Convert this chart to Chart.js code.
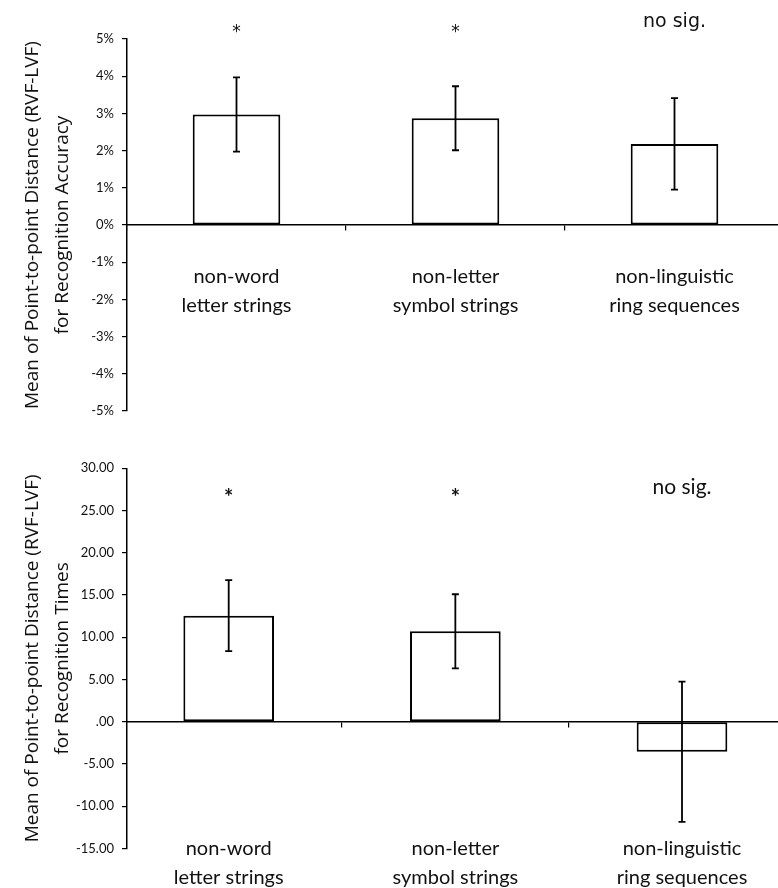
<!DOCTYPE html>
<html>
<head>
<meta charset="utf-8">
<script src="https://cdn.jsdelivr.net/npm/chart.js@4.4.1/dist/chart.umd.min.js"></script>
<style>
  html, body { margin: 0; padding: 0; background: #fff; overflow: hidden; }
  #wrap { position: relative; width: 778px; height: 888px; overflow: hidden; }
  .panel { position: absolute; left: 0; }
  #top { top: 0; }
  #bottom { top: 440px; }
</style>
</head>
<body>
<div id="wrap">
  <div class="panel" id="top"><canvas id="accChart" width="800" height="440"></canvas></div>
  <div class="panel" id="bottom"><canvas id="timeChart" width="800" height="448"></canvas></div>
</div>
<script>
// categories shared by both panels
const categories = [
  ['non-word', 'letter strings'],
  ['non-letter', 'symbol strings'],
  ['non-linguistic', 'ring sequences']
];
const significance = ['*', '*', 'no sig.'];

// top panel: recognition accuracy (%)
const accuracyMeans = [2.97, 2.87, 2.18];
const accuracyErrors = [1.0, 0.86, 1.23];
const accuracyTicks = [-5, -4, -3, -2, -1, 0, 1, 2, 3, 4, 5];
const accuracyTickLabels = ['-5%', '-4%', '-3%', '-2%', '-1%', '0%', '1%', '2%', '3%', '4%', '5%'];

// bottom panel: recognition times
const timeMeans = [12.56, 10.71, -3.55];
const timeErrors = [4.2, 4.38, 8.3];
const timeTicks = [-15, -10, -5, 0, 5, 10, 15, 20, 25, 30];
const timeTickLabels = ['-15.00', '-10.00', '-5.00', '.00', '5.00', '10.00', '15.00', '20.00', '25.00', '30.00'];

const ink = '#111';

// draws +/- error whiskers on each bar
const errorBars = {
  id: 'errorBars',
  afterDatasetsDraw(chart, args, opts) {
    const meta = chart.getDatasetMeta(0);
    const yScale = chart.scales.y;
    const ctx = chart.ctx;
    ctx.save();
    ctx.strokeStyle = '#000';
    ctx.lineWidth = 1.8;
    meta.data.forEach((bar, i) => {
      const v = meta.controller.getParsed(i).y;
      const e = opts.errors[i];
      const top = yScale.getPixelForValue(v + e);
      const bot = yScale.getPixelForValue(v - e);
      ctx.beginPath();
      ctx.moveTo(bar.x, top); ctx.lineTo(bar.x, bot);
      ctx.moveTo(bar.x - 3.5, top); ctx.lineTo(bar.x + 3.5, top);
      ctx.moveTo(bar.x - 3.5, bot); ctx.lineTo(bar.x + 3.5, bot);
      ctx.stroke();
    });
    ctx.restore();
  }
};

// significance notes above the bars
const sigMarks = {
  id: 'sigMarks',
  afterDraw(chart, args, opts) {
    const meta = chart.getDatasetMeta(0);
    const yScale = chart.scales.y;
    const ctx = chart.ctx;
    ctx.save();
    ctx.fillStyle = ink;
    ctx.textAlign = 'center';
    ctx.textBaseline = 'middle';
    opts.labels.forEach((t, i) => {
      const star = t === '*';
      ctx.font = star ? opts.starFont : opts.textFont;
      ctx.fillText(t, meta.data[i].x, yScale.getPixelForValue(star ? opts.starLevel : opts.textLevel));
    });
    ctx.restore();
  }
};

const titleFont = { family: 'Open Sans', size: 19, lineHeight: 1.58 };
const tickFont = { family: 'Lato', size: 13 };
const labelFont = { family: 'Lato', size: 20, lineHeight: 1.45 };

new Chart(document.getElementById('accChart'), {
  type: 'bar',
  data: {
    labels: categories,
    datasets: [{
      data: accuracyMeans,
      backgroundColor: '#fff',
      borderColor: '#000',
      borderWidth: 2,
      borderSkipped: false,
      barPercentage: 0.4,
      categoryPercentage: 1
    }]
  },
  options: {
    responsive: false,
    animation: false,
    layout: { padding: { left: 0, top: 39, right: 16, bottom: 29 } },
    plugins: {
      legend: { display: false },
      tooltip: { enabled: false },
      errorBars: { errors: accuracyErrors },
      sigMarks: {
        labels: significance,
        starLevel: 5.18, textLevel: 5.45,
        starFont: '17px "DejaVu Sans"', textFont: '19px "DejaVu Sans"'
      }
    },
    scales: {
      x: {
        position: { y: 0 },
        offset: true,
        border: { color: '#000', width: 1.5 },
        grid: { offset: true, drawOnChartArea: false, tickLength: 5, color: '#000', lineWidth: 1.2 },
        ticks: { padding: 32.5, color: ink, font: labelFont, maxRotation: 0, autoSkip: false }
      },
      y: {
        min: -5,
        max: 5,
        afterFit: s => { s.width = 127; },
        afterBuildTicks: s => { s.ticks = accuracyTicks.map(v => ({ value: v })); },
        border: { color: '#000', width: 1.5 },
        grid: { drawOnChartArea: false, tickLength: 5, color: '#000', lineWidth: 1.2 },
        ticks: { padding: 8, color: ink, font: tickFont, callback: v => accuracyTickLabels[accuracyTicks.indexOf(v)] },
        title: {
          display: true,
          text: ['Mean of Point-to-point Distance (RVF-LVF)', 'for Recognition Accuracy'],
          font: titleFont,
          color: ink,
          padding: { top: 18, bottom: 0 }
        }
      }
    }
  },
  plugins: [errorBars, sigMarks]
});

// bottom panel uses linear x so the bars sit where the original put them
const xMin = -0.4487, xMax = 2.4765;
const boundaries = categories.slice(1).map((c, i) => i + 0.5);

new Chart(document.getElementById('timeChart'), {
  type: 'bar',
  data: {
    datasets: [{
      xAxisID: 'x',
      data: timeMeans.map((v, i) => ({ x: i, y: v })),
      backgroundColor: '#fff',
      borderColor: '#000',
      borderWidth: 2,
      borderSkipped: false,
      barPercentage: 0.4,
      categoryPercentage: 1
    }]
  },
  options: {
    responsive: false,
    animation: false,
    layout: { padding: { left: 0, top: 28.3, right: 10, bottom: 39.5 } },
    plugins: {
      legend: { display: false },
      tooltip: { enabled: false },
      errorBars: { errors: timeErrors },
      sigMarks: {
        labels: significance,
        starLevel: 26.5, textLevel: 27.8,
        starFont: 'bold 22px Lato', textFont: '21px Lato'
      }
    },
    scales: {
      x: {
        type: 'linear',
        position: { y: 0 },
        min: xMin,
        max: xMax,
        offset: false,
        afterBuildTicks: s => { s.ticks = boundaries.map(v => ({ value: v })); },
        border: { color: '#000', width: 1.5 },
        grid: { offset: false, drawOnChartArea: false, tickLength: 5, color: '#000', lineWidth: 1.2 },
        ticks: { display: false }
      },
      xLabels: {
        type: 'linear',
        axis: 'x',
        position: { y: -15 },
        min: xMin,
        max: xMax,
        offset: false,
        afterBuildTicks: s => { s.ticks = categories.map((c, i) => ({ value: i })); },
        border: { display: false },
        grid: { display: false, offset: false },
        ticks: { padding: -22, color: ink, font: labelFont, maxRotation: 0, autoSkip: false, callback: v => categories[v] }
      },
      y: {
        min: -15,
        max: 30,
        afterFit: s => { s.width = 127; },
        afterBuildTicks: s => { s.ticks = timeTicks.map(v => ({ value: v })); },
        border: { color: '#000', width: 1.5 },
        grid: { drawOnChartArea: false, tickLength: 5, color: '#000', lineWidth: 1.2 },
        ticks: { padding: 8, color: ink, font: tickFont, callback: v => timeTickLabels[timeTicks.indexOf(v)] },
        title: {
          display: true,
          text: ['Mean of Point-to-point Distance (RVF-LVF)', 'for Recognition Times'],
          font: titleFont,
          color: ink,
          padding: { top: 18, bottom: 0 }
        }
      }
    }
  },
  plugins: [errorBars, sigMarks]
});
</script>
</body>
</html>
